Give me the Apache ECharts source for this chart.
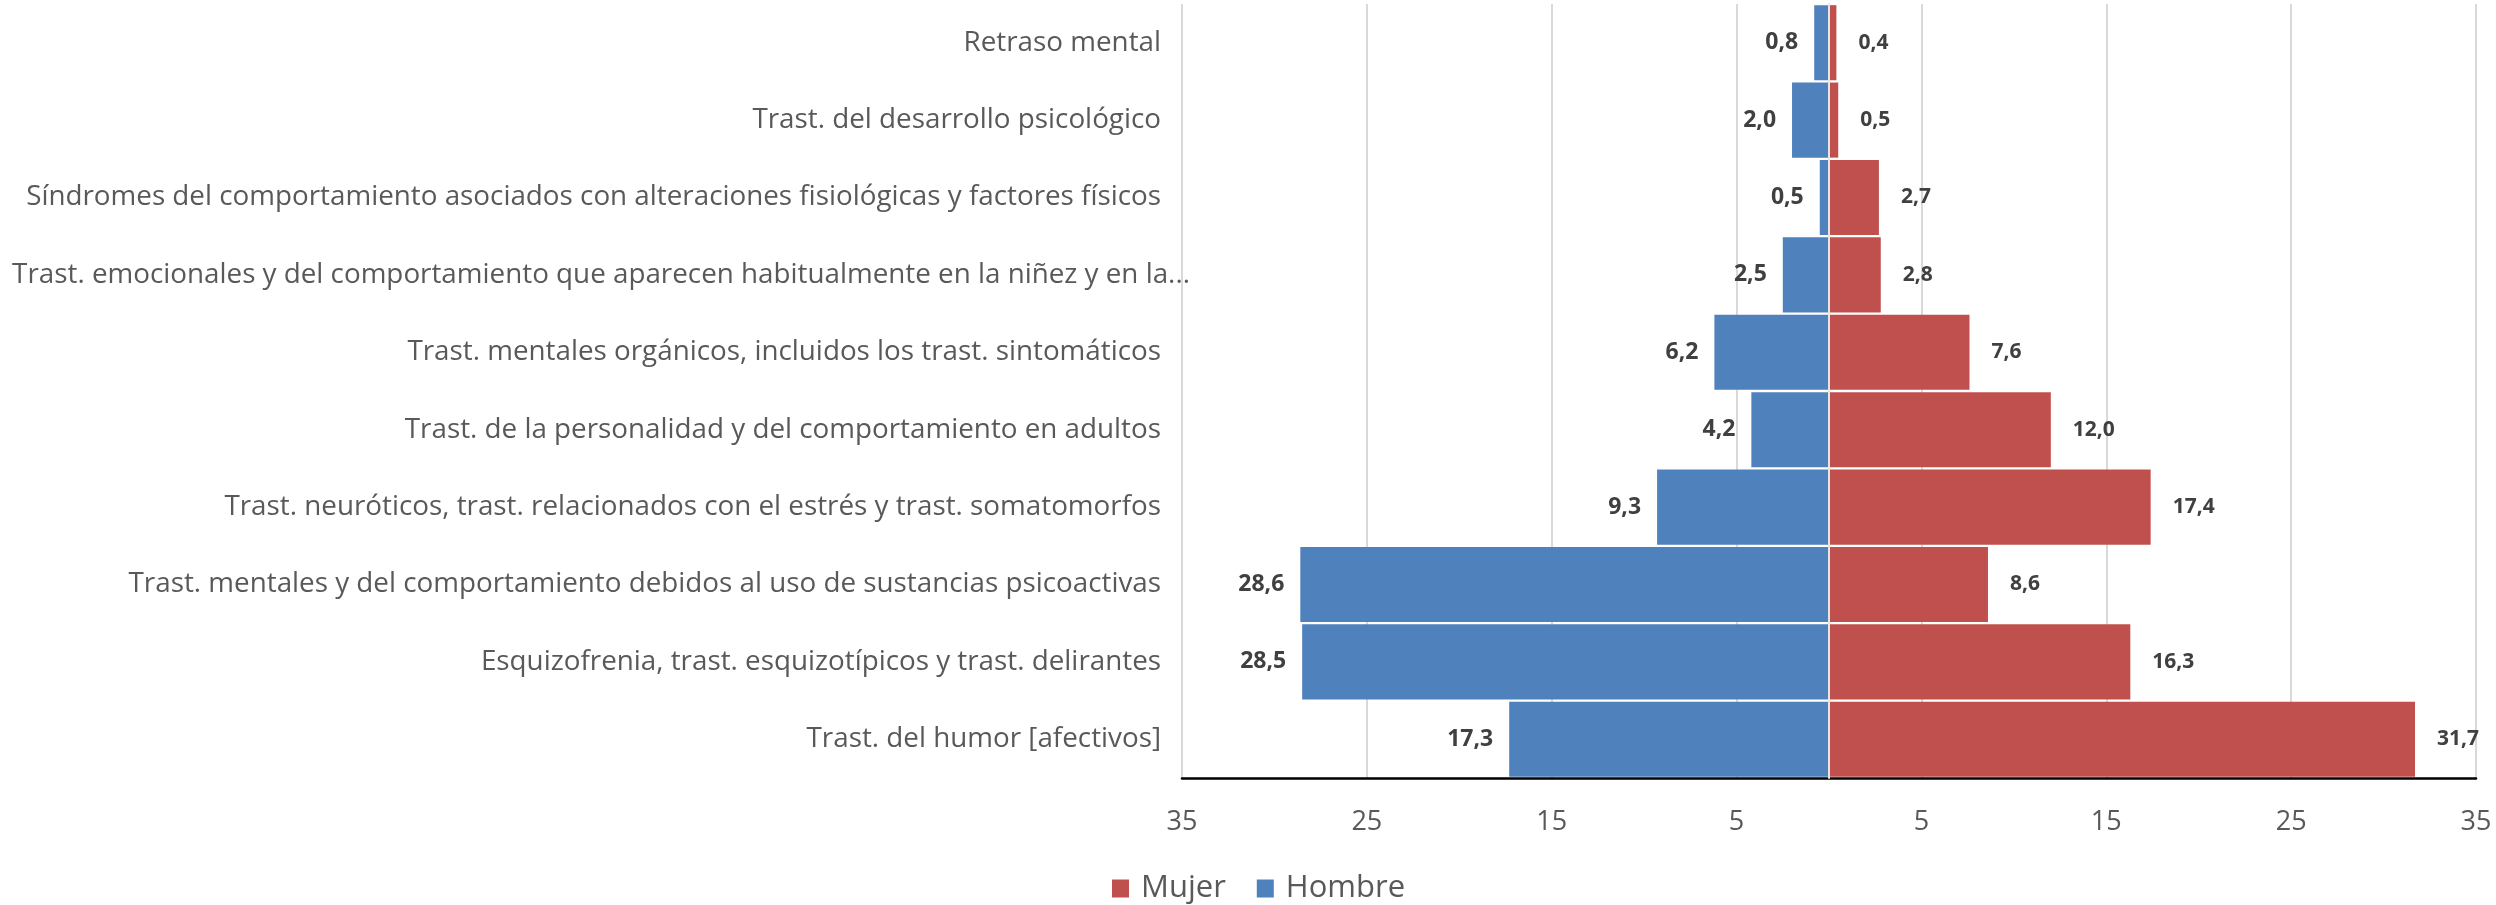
<!DOCTYPE html>
<html>
<head>
<meta charset="utf-8">
<title>Trastornos mentales por sexo</title>
<script src="https://cdn.jsdelivr.net/npm/echarts@6/dist/echarts.min.js"></script>
<style>
  html, body { margin: 0; padding: 0; background: #fff; }
  #chart { width: 2496px; height: 905px; }
</style>
</head>
<body>
<div id="chart"></div>
<script>
// categorias, de arriba a abajo
const categorias = [
  'Retraso mental',
  'Trast. del desarrollo psicológico',
  'Síndromes del comportamiento asociados con alteraciones fisiológicas y factores físicos',
  'Trast. emocionales y del comportamiento que aparecen habitualmente en la niñez y en la...',
  'Trast. mentales orgánicos, incluidos los trast. sintomáticos',
  'Trast. de la personalidad y del comportamiento en adultos',
  'Trast. neuróticos, trast. relacionados con el estrés y trast. somatomorfos',
  'Trast. mentales y del comportamiento debidos al uso de sustancias psicoactivas',
  'Esquizofrenia, trast. esquizotípicos y trast. delirantes',
  'Trast. del humor [afectivos]'
];
const hombre = [0.8, 2.0, 0.5, 2.5, 6.2, 4.2, 9.3, 28.6, 28.5, 17.3];
const mujer = [0.4, 0.5, 2.7, 2.8, 7.6, 12.0, 17.4, 8.6, 16.3, 31.7];
const ejeMin = -35;
const ejeMax = 35;
const ejePaso = 10;

const fmt = v => Math.abs(v).toFixed(1).replace('.', ',');
const fuente = '"Open Sans", "DejaVu Sans", sans-serif';

// la etiqueta truncada (con "...") sobresale un poco hacia la derecha, como en Excel
const yData = categorias.map(c => c.endsWith('...')
  ? { value: c, textStyle: { padding: [0, -29, 0, 0] } }
  : c);

const myChart = echarts.init(document.getElementById('chart'));
myChart.setOption({
  animation: false,
  textStyle: { fontFamily: fuente },
  legend: {
    data: ['Mujer', 'Hombre'],
    left: 1107,
    top: 868,
    itemWidth: 17,
    itemHeight: 18,
    itemGap: 31,
    icon: 'rect',
    textStyle: { fontSize: 31, color: '#595959', fontFamily: fuente, padding: [0, 0, 0, 7] }
  },
  grid: {
    left: 1182,
    right: 20,
    top: 4,
    bottom: 127,
    containLabel: false,
    outerBoundsMode: 'none'
  },
  xAxis: {
    type: 'value',
    min: ejeMin,
    max: ejeMax,
    interval: ejePaso,
    axisLine: { show: true, onZero: false, lineStyle: { color: '#000', width: 2.5 } },
    axisTick: { show: false },
    axisLabel: {
      fontSize: 27,
      color: '#595959',
      margin: 31,
      fontFamily: fuente,
      formatter: v => String(Math.abs(v))
    },
    splitLine: { show: true, lineStyle: { color: '#d9d9d9', width: 2 } }
  },
  yAxis: {
    type: 'category',
    inverse: true,
    data: yData,
    z: 3,
    axisLine: { show: true, lineStyle: { color: '#e6e6e6', width: 2 } },
    axisTick: { show: false },
    axisLabel: {
      fontSize: 27.8,
      color: '#595959',
      margin: 21,
      fontFamily: fuente
    }
  },
  series: [
    {
      name: 'Hombre',
      type: 'bar',
      data: hombre.map(v => -v),
      barCategoryGap: '3%',
      barGap: '-100%',
      itemStyle: { color: '#4f81bd' },
      label: {
        show: true,
        position: 'left',
        distance: 16,
        fontSize: 23,
        fontWeight: 'bold',
        color: '#404040',
        fontFamily: fuente,
        formatter: p => fmt(p.value)
      }
    },
    {
      name: 'Mujer',
      type: 'bar',
      data: mujer,
      barCategoryGap: '3%',
      barGap: '-100%',
      itemStyle: { color: '#c0504d' },
      label: {
        show: true,
        position: 'right',
        distance: 22,
        fontSize: 21,
        fontWeight: 'bold',
        color: '#404040',
        fontFamily: fuente,
        formatter: p => fmt(p.value)
      }
    }
  ]
});
window.addEventListener('resize', () => {
  myChart.resize();
});
</script>
</body>
</html>
